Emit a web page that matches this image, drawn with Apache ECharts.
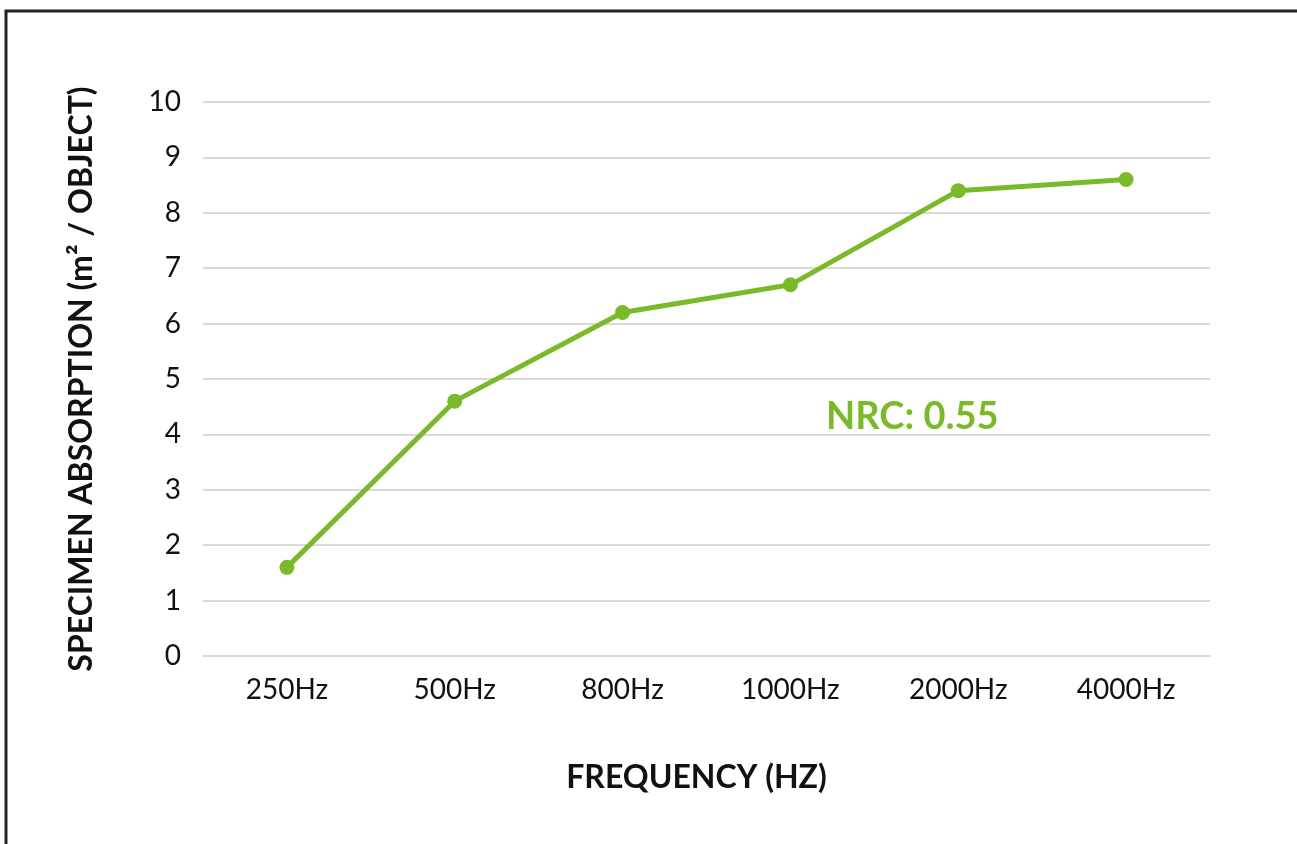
<!DOCTYPE html>
<html><head><meta charset="utf-8">
<script src="https://cdn.jsdelivr.net/npm/echarts@6/dist/echarts.min.js"></script>
<style>html,body{margin:0;padding:0;background:#fff}#c{width:1297px;height:844px}</style>
</head><body><div id="c"></div>
<script>
const categories = ['250Hz','500Hz','800Hz','1000Hz','2000Hz','4000Hz'];
const absorption = [1.6, 4.6, 6.2, 6.7, 8.4, 8.6];
const yTicks = [0,1,2,3,4,5,6,7,8,9,10];
const nrcText = 'NRC: 0.55';
const green = '#7ab929';
const chart = echarts.init(document.getElementById('c'));
chart.setOption({
  animation: false,
  backgroundColor: '#fff',
  grid: {left: 203, right: 87, top: 102, bottom: 188},
  xAxis: {
    type: 'category', data: categories,
    axisLine: {show: true, lineStyle: {color: '#d9d9d9', width: 2}},
    axisTick: {show: false},
    axisLabel: {margin: 20, fontSize: 28, color: '#111', fontFamily: 'Lato'},
    name: 'FREQUENCY (HZ)', nameLocation: 'middle', nameGap: 106,
    nameTextStyle: {fontSize: 32, fontWeight: 'bold', color: '#111', fontFamily: 'Lato', padding: [0, 20, 0, 0]}
  },
  yAxis: {
    type: 'value', min: yTicks[0], max: yTicks[yTicks.length-1], interval: 1,
    axisLine: {show: false}, axisTick: {show: false},
    splitLine: {lineStyle: {color: '#d9d9d9', width: 2}},
    axisLabel: {margin: 22, fontSize: 28, color: '#111', fontFamily: 'Lato'},
    name: 'SPECIMEN ABSORPTION (m² / OBJECT)', nameLocation: 'middle', nameGap: 105,
    nameTextStyle: {fontSize: 32, fontWeight: 'bold', color: '#111', fontFamily: 'Lato'}
  },
  series: [{
    type: 'line', data: absorption,
    lineStyle: {color: green, width: 5},
    itemStyle: {color: green},
    symbol: 'circle', symbolSize: 15
  }],
  graphic: [
    {type: 'rect', shape: {x: 6, y: 11, width: 1400, height: 1000}, style: {fill: 'none', stroke: '#222', lineWidth: 3}, silent: true},
    {type: 'text', x: 826, y: 417, style: {text: nrcText, fill: green, font: 'bold 38px Lato', verticalAlign: 'middle'}}
  ]
});
</script></body></html>
